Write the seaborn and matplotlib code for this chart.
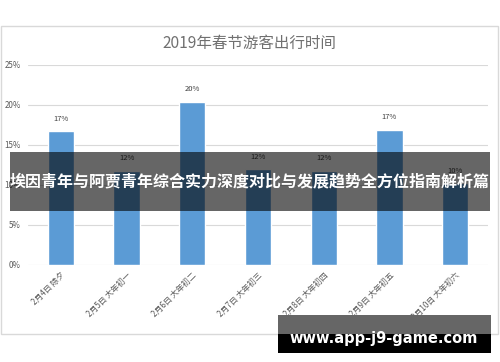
import matplotlib
matplotlib.use("Agg")
import matplotlib.pyplot as plt
import matplotlib.patches as mpatches
import seaborn as sns
import pandas as pd

categories = ["2月4日 除夕", "2月5日 大年初一", "2月6日 大年初二", "2月7日 大年初三",
              "2月8日 大年初四", "2月9日 大年初五", "2月10日 大年初六"]
values = [16.7, 11.8, 20.4, 12.0, 11.8, 16.9, 10.2]
labels = ["17%", "12%", "20%", "12%", "12%", "17%", "10%"]
yticks = [0, 5, 10, 15, 20, 25]
ytick_labels = ["0%", "5%", "10%", "15%", "20%", "25%"]
title = "2019年春节游客出行时间"
banner = "埃因青年与阿贾青年综合实力深度对比与发展趋势全方位指南解析篇"
watermark = "www.app-j9-game.com"

sns.set_theme(style="white")
plt.rcParams['font.family'] = ['Noto Sans CJK SC', 'DejaVu Sans']

df = pd.DataFrame({"cat": categories, "val": values})

W, H = 500, 362
fig = plt.figure(figsize=(5, 3.62), dpi=100)
fig.patch.set_facecolor("white")

ax = fig.add_axes([28 / W, 1 - 265 / H, 460 / W, 200 / H])
sns.barplot(data=df, x="cat", y="val", color="#5b9bd5", width=0.4,
            saturation=1, ax=ax, zorder=3)
ax.set_xlim(-0.5, 6.5)
ax.set_ylim(0, 25)
ax.set_yticks(yticks)
ax.set_yticklabels(ytick_labels, fontsize=5.8, color="#595959")
ax.set_xlabel("")
ax.set_ylabel("")
ax.set_xticks(range(len(categories)))
ax.set_xticklabels(categories, rotation=45, ha="right", rotation_mode="anchor",
                   fontsize=5.8, color="#595959")
ax.tick_params(axis="both", length=0, pad=4)
ax.tick_params(axis="y", pad=5)
ax.yaxis.grid(True, color="#d9d9d9", linewidth=0.8, zorder=0)
ax.set_axisbelow(True)
for s in ax.spines.values():
    s.set_visible(False)

for i, (v, lab) in enumerate(zip(values, labels)):
    ax.annotate(lab, (i, v), xytext=(0, 6), textcoords="offset points",
                ha="center", va="bottom", fontsize=5.5, color="#404040")

# chart frame
fig.patches.append(mpatches.Rectangle((1 / W, 1 - 334 / H), 497 / W, 308 / H,
                                      transform=fig.transFigure, fill=False,
                                      edgecolor="#d9d9d9", linewidth=1, zorder=1))
fig.text(249 / W, 1 - 43 / H, title, ha="center", va="center", fontsize=11.2,
         color="#707070")

# banner overlay
fig.patches.append(mpatches.Rectangle((10 / W, 1 - 210.5 / H), 480 / W, 58.5 / H,
                                      transform=fig.transFigure, facecolor="black",
                                      alpha=0.6, edgecolor="none", zorder=10))
fig.text(250 / W, 1 - 181 / H, banner, ha="center", va="center", fontsize=11.5,
         color="white", fontweight="bold", zorder=11)

# watermark
fig.patches.append(mpatches.Rectangle((278 / W, 1 - 334 / H), 213 / W, 19 / H,
                                      transform=fig.transFigure, facecolor="#666666",
                                      edgecolor="none", zorder=10))
fig.patches.append(mpatches.Rectangle((278 / W, 1 - 353 / H), 213 / W, 19 / H,
                                      transform=fig.transFigure, facecolor="black",
                                      edgecolor="none", zorder=10))
fig.text(384 / W, 1 - 338 / H, watermark, ha="center", va="center", fontsize=10.5,
         color="white", fontweight="bold", family="DejaVu Sans", zorder=11)

fig.savefig("out.png", dpi=100, facecolor="white")
